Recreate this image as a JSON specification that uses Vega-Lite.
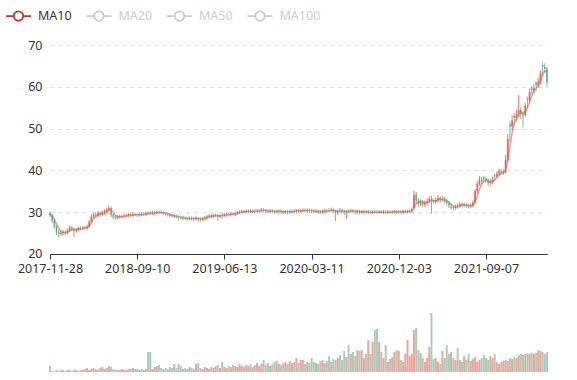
{
"$schema": "https://vega.github.io/schema/vega-lite/v6.json",
"width": 497, "height": 327,
"autosize": {"type": "none"},
"padding": {"left": 50, "top": 45, "right": 30, "bottom": 8},
"config": {"font": "Noto Sans", "view": {"stroke": null}},
"data": {"values": [
{"d":"2017-11-28","o":29.8,"c":29.2,"h":30.2,"l":28.7,"v":6,"m":29.6},
{"d":"2017-12-05","o":29.2,"c":28.0,"h":29.6,"l":27.4,"v":1,"m":29.2},
{"d":"2017-12-12","o":28.0,"c":26.5,"h":28.4,"l":26.0,"v":1,"m":28.3},
{"d":"2017-12-19","o":26.5,"c":25.2,"h":26.9,"l":24.6,"v":2,"m":27.2},
{"d":"2017-12-26","o":25.2,"c":24.8,"h":25.7,"l":23.9,"v":1,"m":26.2},
{"d":"2018-01-02","o":24.8,"c":25.0,"h":25.6,"l":24.3,"v":2,"m":25.4},
{"d":"2018-01-09","o":25.0,"c":25.3,"h":25.8,"l":24.5,"v":2,"m":25.1},
{"d":"2018-01-16","o":25.3,"c":25.1,"h":25.7,"l":24.4,"v":1,"m":25.1},
{"d":"2018-01-23","o":25.1,"c":25.6,"h":26.1,"l":24.7,"v":2,"m":25.2},
{"d":"2018-01-30","o":25.6,"c":26.3,"h":26.8,"l":25.2,"v":2,"m":25.5},
{"d":"2018-02-06","o":26.3,"c":26.0,"h":26.7,"l":25.5,"v":1,"m":25.9},
{"d":"2018-02-13","o":26.0,"c":25.6,"h":26.4,"l":24.0,"v":2,"m":25.9},
{"d":"2018-02-20","o":25.6,"c":25.8,"h":26.2,"l":25.1,"v":2,"m":25.8},
{"d":"2018-02-27","o":25.8,"c":26.2,"h":26.6,"l":25.4,"v":1,"m":25.9},
{"d":"2018-03-06","o":26.2,"c":26.1,"h":26.6,"l":25.6,"v":2,"m":26.0},
{"d":"2018-03-13","o":26.1,"c":26.3,"h":26.7,"l":25.7,"v":2,"m":26.1},
{"d":"2018-03-20","o":26.3,"c":26.2,"h":26.7,"l":25.8,"v":3,"m":26.2},
{"d":"2018-03-27","o":26.2,"c":26.6,"h":27.0,"l":25.8,"v":4,"m":26.3},
{"d":"2018-04-03","o":26.6,"c":27.8,"h":28.2,"l":26.3,"v":2,"m":26.7},
{"d":"2018-04-10","o":27.8,"c":29.0,"h":29.5,"l":27.4,"v":3,"m":27.5},
{"d":"2018-04-17","o":29.0,"c":29.4,"h":29.9,"l":28.5,"v":4,"m":28.4},
{"d":"2018-04-24","o":29.4,"c":29.2,"h":30.0,"l":28.6,"v":3,"m":29.0},
{"d":"2018-05-01","o":29.2,"c":29.8,"h":30.3,"l":28.8,"v":2,"m":29.3},
{"d":"2018-05-08","o":29.8,"c":29.5,"h":30.2,"l":28.8,"v":4,"m":29.5},
{"d":"2018-05-15","o":29.5,"c":29.9,"h":30.4,"l":29.1,"v":5,"m":29.6},
{"d":"2018-05-22","o":29.9,"c":30.2,"h":30.7,"l":29.4,"v":3,"m":29.8},
{"d":"2018-05-29","o":30.2,"c":30.6,"h":31.1,"l":29.8,"v":4,"m":30.1},
{"d":"2018-06-05","o":30.6,"c":31.0,"h":31.6,"l":30.1,"v":6,"m":30.5},
{"d":"2018-06-12","o":31.0,"c":29.4,"h":31.4,"l":28.8,"v":5,"m":30.5},
{"d":"2018-06-19","o":29.4,"c":28.9,"h":29.8,"l":28.3,"v":3,"m":30.0},
{"d":"2018-06-26","o":28.9,"c":28.7,"h":29.3,"l":28.2,"v":2,"m":29.3},
{"d":"2018-07-03","o":28.7,"c":28.9,"h":29.3,"l":28.3,"v":2,"m":29.0},
{"d":"2018-07-10","o":28.9,"c":29.0,"h":29.4,"l":28.4,"v":2,"m":28.9},
{"d":"2018-07-17","o":29.0,"c":29.1,"h":29.5,"l":28.6,"v":3,"m":28.9},
{"d":"2018-07-24","o":29.1,"c":29.2,"h":29.6,"l":28.7,"v":2,"m":29.0},
{"d":"2018-07-31","o":29.2,"c":29.3,"h":29.7,"l":28.8,"v":2,"m":29.1},
{"d":"2018-08-07","o":29.3,"c":29.4,"h":29.8,"l":28.9,"v":3,"m":29.2},
{"d":"2018-08-14","o":29.4,"c":29.3,"h":29.8,"l":28.8,"v":3,"m":29.3},
{"d":"2018-08-21","o":29.3,"c":29.5,"h":29.9,"l":28.9,"v":4,"m":29.3},
{"d":"2018-08-28","o":29.5,"c":29.4,"h":29.9,"l":29.0,"v":3,"m":29.4},
{"d":"2018-09-10","o":29.4,"c":29.3,"h":29.8,"l":28.8,"v":3,"m":29.4},
{"d":"2018-09-17","o":29.3,"c":29.5,"h":29.9,"l":28.9,"v":2,"m":29.4},
{"d":"2018-09-24","o":29.5,"c":29.6,"h":30.0,"l":29.1,"v":3,"m":29.4},
{"d":"2018-10-01","o":29.6,"c":29.5,"h":30.0,"l":29.1,"v":2,"m":29.5},
{"d":"2018-10-08","o":29.5,"c":29.7,"h":30.1,"l":29.1,"v":3,"m":29.6},
{"d":"2018-10-15","o":29.8,"c":29.7,"h":30.2,"l":29.3,"v":20,"m":29.7},
{"d":"2018-10-22","o":29.8,"c":29.7,"h":30.2,"l":29.3,"v":20,"m":29.7},
{"d":"2018-10-29","o":29.7,"c":29.9,"h":30.3,"l":29.3,"v":3,"m":29.8},
{"d":"2018-11-05","o":29.8,"c":29.9,"h":30.3,"l":29.4,"v":5,"m":29.8},
{"d":"2018-11-12","o":29.9,"c":30.0,"h":30.4,"l":29.5,"v":6,"m":29.9},
{"d":"2018-11-19","o":30.1,"c":30.0,"h":30.4,"l":29.6,"v":7,"m":29.9},
{"d":"2018-11-26","o":30.0,"c":29.9,"h":30.4,"l":29.5,"v":4,"m":29.9},
{"d":"2018-12-03","o":29.9,"c":29.7,"h":30.2,"l":29.3,"v":3,"m":29.9},
{"d":"2018-12-10","o":29.7,"c":29.6,"h":30.1,"l":29.2,"v":4,"m":29.8},
{"d":"2018-12-17","o":29.6,"c":29.4,"h":29.9,"l":29.0,"v":3,"m":29.6},
{"d":"2018-12-24","o":29.4,"c":29.2,"h":29.8,"l":28.8,"v":5,"m":29.5},
{"d":"2018-12-31","o":29.2,"c":29.1,"h":29.6,"l":28.7,"v":4,"m":29.3},
{"d":"2019-01-07","o":29.0,"c":29.1,"h":29.5,"l":28.6,"v":8,"m":29.2},
{"d":"2019-01-14","o":29.0,"c":28.9,"h":29.4,"l":28.5,"v":4,"m":29.0},
{"d":"2019-01-21","o":28.9,"c":28.8,"h":29.3,"l":28.0,"v":8,"m":28.9},
{"d":"2019-01-28","o":28.8,"c":28.7,"h":29.2,"l":28.2,"v":6,"m":28.8},
{"d":"2019-02-04","o":28.5,"c":28.6,"h":29.1,"l":28.1,"v":3,"m":28.7},
{"d":"2019-02-11","o":28.6,"c":28.5,"h":29.0,"l":28.1,"v":4,"m":28.6},
{"d":"2019-02-18","o":28.4,"c":28.5,"h":28.9,"l":28.0,"v":3,"m":28.5},
{"d":"2019-02-25","o":28.5,"c":28.6,"h":29.0,"l":28.1,"v":5,"m":28.5},
{"d":"2019-03-04","o":28.6,"c":28.5,"h":29.0,"l":28.0,"v":4,"m":28.5},
{"d":"2019-03-11","o":28.5,"c":28.4,"h":28.9,"l":27.9,"v":3,"m":28.5},
{"d":"2019-03-18","o":28.4,"c":28.6,"h":29.0,"l":28.0,"v":8,"m":28.5},
{"d":"2019-03-25","o":28.6,"c":28.4,"h":28.9,"l":27.7,"v":9,"m":28.5},
{"d":"2019-04-01","o":28.4,"c":28.3,"h":28.8,"l":27.8,"v":4,"m":28.4},
{"d":"2019-04-08","o":28.3,"c":28.4,"h":28.8,"l":27.9,"v":3,"m":28.4},
{"d":"2019-04-15","o":28.4,"c":28.7,"h":29.1,"l":28.0,"v":5,"m":28.5},
{"d":"2019-04-22","o":28.7,"c":29.0,"h":29.4,"l":28.3,"v":4,"m":28.7},
{"d":"2019-04-29","o":29.0,"c":29.2,"h":29.6,"l":28.6,"v":3,"m":28.9},
{"d":"2019-05-06","o":29.2,"c":29.0,"h":29.6,"l":28.5,"v":5,"m":29.0},
{"d":"2019-05-13","o":29.0,"c":29.2,"h":29.6,"l":28.6,"v":4,"m":29.1},
{"d":"2019-05-20","o":29.2,"c":29.3,"h":29.7,"l":28.8,"v":6,"m":29.2},
{"d":"2019-05-27","o":29.3,"c":29.0,"h":29.6,"l":27.9,"v":7,"m":29.1},
{"d":"2019-06-03","o":29.0,"c":29.2,"h":29.6,"l":28.6,"v":4,"m":29.1},
{"d":"2019-06-10","o":29.4,"c":29.3,"h":29.8,"l":28.4,"v":10,"m":29.2},
{"d":"2019-06-13","o":29.3,"c":29.4,"h":29.8,"l":28.9,"v":5,"m":29.3},
{"d":"2019-06-20","o":29.4,"c":29.5,"h":29.9,"l":29.0,"v":4,"m":29.4},
{"d":"2019-06-27","o":29.5,"c":29.4,"h":29.9,"l":29.0,"v":6,"m":29.4},
{"d":"2019-07-04","o":29.4,"c":29.6,"h":30.0,"l":29.0,"v":5,"m":29.5},
{"d":"2019-07-11","o":29.6,"c":29.5,"h":30.0,"l":29.1,"v":7,"m":29.5},
{"d":"2019-07-18","o":29.5,"c":29.7,"h":30.1,"l":29.1,"v":6,"m":29.6},
{"d":"2019-07-25","o":29.7,"c":29.9,"h":30.3,"l":29.3,"v":5,"m":29.7},
{"d":"2019-08-01","o":29.9,"c":30.1,"h":30.5,"l":29.5,"v":8,"m":29.9},
{"d":"2019-08-08","o":30.1,"c":30.2,"h":30.6,"l":29.7,"v":6,"m":30.0},
{"d":"2019-08-15","o":30.2,"c":30.1,"h":30.6,"l":29.7,"v":5,"m":30.1},
{"d":"2019-08-22","o":30.1,"c":30.2,"h":30.6,"l":29.7,"v":7,"m":30.2},
{"d":"2019-08-29","o":30.2,"c":30.3,"h":30.7,"l":29.8,"v":6,"m":30.2},
{"d":"2019-09-05","o":30.3,"c":30.2,"h":30.7,"l":29.8,"v":8,"m":30.2},
{"d":"2019-09-12","o":30.2,"c":30.3,"h":30.7,"l":29.8,"v":5,"m":30.2},
{"d":"2019-09-19","o":30.3,"c":30.2,"h":30.7,"l":29.7,"v":7,"m":30.2},
{"d":"2019-09-26","o":30.2,"c":30.3,"h":30.7,"l":29.8,"v":9,"m":30.3},
{"d":"2019-10-03","o":30.3,"c":30.4,"h":30.8,"l":29.9,"v":6,"m":30.3},
{"d":"2019-10-10","o":30.4,"c":30.5,"h":31.0,"l":30.0,"v":8,"m":30.4},
{"d":"2019-10-17","o":30.5,"c":30.4,"h":30.9,"l":29.9,"v":12,"m":30.4},
{"d":"2019-10-24","o":30.4,"c":30.3,"h":30.8,"l":29.8,"v":7,"m":30.4},
{"d":"2019-10-31","o":30.3,"c":30.2,"h":30.7,"l":29.7,"v":9,"m":30.3},
{"d":"2019-11-07","o":30.2,"c":30.3,"h":30.7,"l":29.8,"v":6,"m":30.3},
{"d":"2019-11-14","o":30.3,"c":30.2,"h":30.7,"l":29.7,"v":8,"m":30.3},
{"d":"2019-11-21","o":30.2,"c":30.1,"h":30.6,"l":29.6,"v":10,"m":30.2},
{"d":"2019-11-28","o":30.1,"c":30.2,"h":30.6,"l":29.7,"v":11,"m":30.2},
{"d":"2019-12-05","o":30.2,"c":30.3,"h":30.7,"l":29.8,"v":8,"m":30.2},
{"d":"2019-12-12","o":30.3,"c":30.1,"h":30.7,"l":29.6,"v":7,"m":30.2},
{"d":"2019-12-19","o":30.1,"c":30.0,"h":30.5,"l":29.5,"v":9,"m":30.1},
{"d":"2019-12-26","o":30.0,"c":30.1,"h":30.5,"l":29.6,"v":10,"m":30.1},
{"d":"2020-01-02","o":30.1,"c":30.0,"h":30.5,"l":29.5,"v":8,"m":30.1},
{"d":"2020-01-09","o":30.0,"c":30.2,"h":30.6,"l":29.6,"v":11,"m":30.1},
{"d":"2020-01-16","o":30.2,"c":30.3,"h":30.7,"l":29.8,"v":9,"m":30.1},
{"d":"2020-01-23","o":30.3,"c":30.2,"h":30.7,"l":29.7,"v":10,"m":30.2},
{"d":"2020-01-30","o":30.2,"c":30.4,"h":30.8,"l":29.7,"v":14,"m":30.3},
{"d":"2020-02-06","o":30.4,"c":30.3,"h":30.8,"l":29.8,"v":9,"m":30.3},
{"d":"2020-02-13","o":30.3,"c":30.4,"h":30.8,"l":29.9,"v":12,"m":30.3},
{"d":"2020-02-20","o":30.4,"c":30.5,"h":30.9,"l":30.0,"v":12,"m":30.4},
{"d":"2020-02-27","o":30.5,"c":30.4,"h":30.9,"l":29.9,"v":8,"m":30.4},
{"d":"2020-03-05","o":30.4,"c":30.5,"h":30.9,"l":30.0,"v":10,"m":30.4},
{"d":"2020-03-09","o":30.5,"c":30.4,"h":30.9,"l":29.9,"v":9,"m":30.4},
{"d":"2020-03-11","o":30.4,"c":30.3,"h":30.8,"l":29.8,"v":14,"m":30.4},
{"d":"2020-03-18","o":30.3,"c":30.2,"h":30.7,"l":29.7,"v":10,"m":30.3},
{"d":"2020-03-25","o":30.2,"c":30.3,"h":30.7,"l":29.8,"v":9,"m":30.3},
{"d":"2020-04-01","o":30.3,"c":30.1,"h":30.7,"l":29.6,"v":8,"m":30.2},
{"d":"2020-04-08","o":30.1,"c":30.0,"h":30.5,"l":29.5,"v":11,"m":30.2},
{"d":"2020-04-15","o":30.0,"c":30.2,"h":30.6,"l":29.6,"v":12,"m":30.1},
{"d":"2020-04-22","o":30.2,"c":30.4,"h":30.8,"l":29.8,"v":9,"m":30.2},
{"d":"2020-04-29","o":30.4,"c":30.3,"h":30.8,"l":29.8,"v":11,"m":30.2},
{"d":"2020-05-06","o":30.5,"c":30.4,"h":31.0,"l":29.9,"v":16,"m":30.3},
{"d":"2020-05-13","o":30.4,"c":30.6,"h":31.1,"l":30.1,"v":10,"m":30.4},
{"d":"2020-05-20","o":30.6,"c":30.3,"h":31.0,"l":29.8,"v":13,"m":30.4},
{"d":"2020-05-27","o":30.3,"c":30.0,"h":30.7,"l":27.9,"v":12,"m":30.3},
{"d":"2020-06-03","o":30.0,"c":30.2,"h":30.6,"l":29.4,"v":14,"m":30.2},
{"d":"2020-06-10","o":30.6,"c":30.5,"h":31.0,"l":29.7,"v":17,"m":30.3},
{"d":"2020-06-17","o":30.5,"c":30.3,"h":30.9,"l":29.8,"v":12,"m":30.3},
{"d":"2020-06-24","o":30.3,"c":29.9,"h":30.6,"l":29.3,"v":21,"m":30.2},
{"d":"2020-07-01","o":29.9,"c":30.1,"h":30.5,"l":28.4,"v":15,"m":30.1},
{"d":"2020-07-08","o":30.4,"c":30.3,"h":30.7,"l":29.7,"v":27,"m":30.2},
{"d":"2020-07-15","o":30.3,"c":30.4,"h":30.8,"l":29.9,"v":18,"m":30.2},
{"d":"2020-07-22","o":30.4,"c":30.2,"h":30.8,"l":29.7,"v":20,"m":30.3},
{"d":"2020-07-29","o":30.2,"c":30.1,"h":30.6,"l":29.6,"v":16,"m":30.2},
{"d":"2020-08-05","o":30.0,"c":30.2,"h":30.6,"l":29.6,"v":22,"m":30.2},
{"d":"2020-08-12","o":30.2,"c":30.0,"h":30.6,"l":29.5,"v":21,"m":30.2},
{"d":"2020-08-19","o":29.9,"c":30.1,"h":30.5,"l":29.6,"v":22,"m":30.1},
{"d":"2020-08-26","o":30.1,"c":30.2,"h":30.6,"l":29.7,"v":14,"m":30.1},
{"d":"2020-09-02","o":30.2,"c":30.1,"h":30.6,"l":29.6,"v":18,"m":30.1},
{"d":"2020-09-09","o":29.9,"c":30.0,"h":30.5,"l":29.5,"v":32,"m":30.1},
{"d":"2020-09-16","o":30.0,"c":29.9,"h":30.4,"l":29.5,"v":18,"m":30.0},
{"d":"2020-09-23","o":29.9,"c":30.0,"h":30.4,"l":29.5,"v":30,"m":30.0},
{"d":"2020-09-30","o":30.2,"c":30.1,"h":30.5,"l":29.6,"v":42,"m":30.0},
{"d":"2020-10-07","o":30.1,"c":30.0,"h":30.5,"l":29.6,"v":43,"m":30.0},
{"d":"2020-10-14","o":30.0,"c":30.1,"h":30.5,"l":29.6,"v":30,"m":30.0},
{"d":"2020-10-21","o":30.1,"c":30.0,"h":30.4,"l":29.6,"v":20,"m":30.0},
{"d":"2020-10-28","o":30.0,"c":30.1,"h":30.5,"l":29.6,"v":14,"m":30.0},
{"d":"2020-11-04","o":30.1,"c":30.0,"h":30.5,"l":29.6,"v":27,"m":30.0},
{"d":"2020-11-11","o":30.0,"c":30.1,"h":30.5,"l":29.6,"v":10,"m":30.0},
{"d":"2020-11-18","o":30.1,"c":30.0,"h":30.4,"l":29.6,"v":13,"m":30.0},
{"d":"2020-11-23","o":30.0,"c":30.1,"h":30.5,"l":29.6,"v":15,"m":30.0},
{"d":"2020-11-27","o":30.1,"c":30.2,"h":30.6,"l":29.7,"v":20,"m":30.1},
{"d":"2020-12-01","o":30.2,"c":30.0,"h":30.6,"l":29.6,"v":22,"m":30.1},
{"d":"2020-12-03","o":30.0,"c":30.1,"h":30.5,"l":29.6,"v":21,"m":30.1},
{"d":"2020-12-10","o":30.1,"c":30.0,"h":30.5,"l":29.6,"v":12,"m":30.1},
{"d":"2020-12-17","o":30.0,"c":30.2,"h":30.6,"l":29.6,"v":10,"m":30.1},
{"d":"2020-12-24","o":30.0,"c":30.1,"h":30.6,"l":29.7,"v":18,"m":30.1},
{"d":"2020-12-31","o":30.1,"c":30.2,"h":30.6,"l":29.7,"v":32,"m":30.1},
{"d":"2021-01-07","o":30.2,"c":30.3,"h":30.7,"l":29.8,"v":16,"m":30.2},
{"d":"2021-01-14","o":30.3,"c":30.6,"h":31.2,"l":29.9,"v":18,"m":30.3},
{"d":"2021-01-21","o":31.0,"c":34.2,"h":35.2,"l":30.6,"v":42,"m":31.2},
{"d":"2021-01-28","o":34.2,"c":32.8,"h":34.8,"l":32.1,"v":44,"m":32.0},
{"d":"2021-02-04","o":32.8,"c":32.0,"h":33.4,"l":31.3,"v":22,"m":32.4},
{"d":"2021-02-11","o":32.0,"c":32.4,"h":33.1,"l":31.4,"v":19,"m":32.6},
{"d":"2021-02-18","o":32.4,"c":31.8,"h":32.9,"l":31.1,"v":14,"m":32.5},
{"d":"2021-02-25","o":31.8,"c":32.2,"h":32.8,"l":31.2,"v":10,"m":32.3},
{"d":"2021-03-04","o":32.2,"c":32.6,"h":33.2,"l":31.7,"v":14,"m":32.3},
{"d":"2021-03-11","o":32.6,"c":33.2,"h":33.8,"l":32.1,"v":25,"m":32.5},
{"d":"2021-03-18","o":33.2,"c":32.8,"h":33.9,"l":29.6,"v":59,"m":32.7},
{"d":"2021-03-25","o":32.8,"c":32.5,"h":33.3,"l":31.9,"v":13,"m":32.7},
{"d":"2021-04-01","o":32.5,"c":32.9,"h":33.5,"l":32.0,"v":14,"m":32.7},
{"d":"2021-04-08","o":32.9,"c":33.4,"h":34.1,"l":32.4,"v":10,"m":32.9},
{"d":"2021-04-15","o":33.4,"c":33.0,"h":33.9,"l":32.4,"v":8,"m":33.0},
{"d":"2021-04-22","o":33.0,"c":33.2,"h":33.8,"l":32.5,"v":21,"m":33.1},
{"d":"2021-04-29","o":33.2,"c":32.7,"h":33.7,"l":32.1,"v":14,"m":33.0},
{"d":"2021-05-06","o":32.7,"c":32.2,"h":33.2,"l":31.6,"v":27,"m":32.8},
{"d":"2021-05-13","o":32.2,"c":31.6,"h":32.7,"l":31.0,"v":18,"m":32.4},
{"d":"2021-05-20","o":31.0,"c":31.2,"h":32.1,"l":30.6,"v":20,"m":31.9},
{"d":"2021-05-27","o":31.2,"c":31.0,"h":31.6,"l":30.4,"v":14,"m":31.5},
{"d":"2021-06-03","o":31.0,"c":31.3,"h":31.8,"l":30.6,"v":12,"m":31.3},
{"d":"2021-06-10","o":31.8,"c":31.6,"h":32.1,"l":30.8,"v":24,"m":31.3},
{"d":"2021-06-17","o":31.6,"c":31.9,"h":32.4,"l":31.1,"v":12,"m":31.5},
{"d":"2021-06-24","o":31.9,"c":31.7,"h":32.3,"l":31.1,"v":10,"m":31.7},
{"d":"2021-07-01","o":31.7,"c":31.8,"h":32.3,"l":31.2,"v":16,"m":31.7},
{"d":"2021-07-08","o":31.8,"c":31.5,"h":32.2,"l":31.0,"v":12,"m":31.7},
{"d":"2021-07-15","o":31.5,"c":31.4,"h":32.0,"l":30.9,"v":18,"m":31.6},
{"d":"2021-07-22","o":31.4,"c":31.6,"h":32.1,"l":30.9,"v":11,"m":31.5},
{"d":"2021-07-29","o":31.6,"c":32.3,"h":32.8,"l":31.2,"v":13,"m":31.7},
{"d":"2021-08-05","o":32.3,"c":35.0,"h":35.6,"l":31.9,"v":15,"m":32.5},
{"d":"2021-08-12","o":35.0,"c":36.8,"h":37.4,"l":34.4,"v":10,"m":33.8},
{"d":"2021-08-19","o":36.8,"c":37.8,"h":38.6,"l":36.3,"v":12,"m":35.5},
{"d":"2021-08-26","o":37.8,"c":37.5,"h":38.4,"l":36.6,"v":14,"m":36.8},
{"d":"2021-09-02","o":38.3,"c":38.0,"h":38.7,"l":36.9,"v":17,"m":37.4},
{"d":"2021-09-07","o":38.0,"c":37.6,"h":38.5,"l":37.0,"v":14,"m":37.7},
{"d":"2021-09-14","o":37.6,"c":37.0,"h":38.1,"l":36.3,"v":12,"m":37.5},
{"d":"2021-09-21","o":37.0,"c":37.3,"h":38.0,"l":36.5,"v":16,"m":37.3},
{"d":"2021-09-28","o":37.3,"c":37.9,"h":38.5,"l":36.8,"v":14,"m":37.4},
{"d":"2021-10-05","o":38.8,"c":38.6,"h":39.2,"l":37.4,"v":18,"m":37.8},
{"d":"2021-10-12","o":38.6,"c":39.2,"h":39.8,"l":38.1,"v":10,"m":38.3},
{"d":"2021-10-19","o":39.2,"c":39.8,"h":40.4,"l":38.7,"v":8,"m":38.9},
{"d":"2021-10-26","o":39.8,"c":39.5,"h":40.3,"l":38.9,"v":10,"m":39.3},
{"d":"2021-11-02","o":39.5,"c":39.6,"h":40.2,"l":38.9,"v":11,"m":39.5},
{"d":"2021-11-09","o":39.6,"c":42.5,"h":43.7,"l":39.2,"v":12,"m":40.2},
{"d":"2021-11-16","o":42.5,"c":47.5,"h":48.7,"l":42.0,"v":11,"m":42.4},
{"d":"2021-11-23","o":51.0,"c":50.5,"h":51.7,"l":46.8,"v":14,"m":45.8},
{"d":"2021-11-30","o":50.5,"c":52.0,"h":53.2,"l":49.6,"v":13,"m":49.0},
{"d":"2021-12-07","o":53.0,"c":52.6,"h":53.7,"l":51.0,"v":15,"m":51.2},
{"d":"2021-12-14","o":52.6,"c":53.4,"h":54.4,"l":51.8,"v":14,"m":52.4},
{"d":"2021-12-21","o":53.4,"c":54.5,"h":58.0,"l":52.8,"v":17,"m":53.2},
{"d":"2021-12-28","o":54.5,"c":53.5,"h":55.2,"l":52.3,"v":18,"m":53.7},
{"d":"2022-01-04","o":53.5,"c":53.2,"h":54.2,"l":50.3,"v":17,"m":53.7},
{"d":"2022-01-11","o":53.2,"c":55.5,"h":56.2,"l":52.8,"v":18,"m":54.0},
{"d":"2022-01-18","o":57.0,"c":56.8,"h":57.7,"l":54.8,"v":19,"m":55.0},
{"d":"2022-01-25","o":56.8,"c":58.8,"h":59.6,"l":56.2,"v":18,"m":56.3},
{"d":"2022-02-01","o":59.6,"c":59.2,"h":60.2,"l":58.1,"v":19,"m":57.8},
{"d":"2022-02-08","o":59.2,"c":59.6,"h":60.6,"l":58.5,"v":18,"m":58.9},
{"d":"2022-02-15","o":60.8,"c":60.4,"h":61.4,"l":59.0,"v":19,"m":59.6},
{"d":"2022-02-22","o":60.4,"c":61.2,"h":62.2,"l":59.8,"v":22,"m":60.4},
{"d":"2022-03-01","o":61.2,"c":63.2,"h":64.0,"l":60.6,"v":21,"m":61.5},
{"d":"2022-03-08","o":65.2,"c":64.8,"h":65.8,"l":62.6,"v":20,"m":62.8},
{"d":"2022-03-15","o":64.8,"c":64.3,"h":65.6,"l":63.3,"v":18,"m":63.8},
{"d":"2022-03-22","o":64.3,"c":61.0,"h":64.8,"l":60.0,"v":20,"m":63.5}
]},
"encoding": {
  "x": {"field": "d", "type": "ordinal", "scale": {"type": "point", "padding": 0},
    "axis": {"values": ["2017-11-28","2018-09-10","2019-06-13","2020-03-11","2020-12-03","2021-09-07"],
      "offset": -118, "labelAngle": 0, "title": null, "grid": false,
      "domainColor": "#333", "tickColor": "#333", "labelColor": "#333",
      "labelFont": "Noto Sans", "labelFontSize": 12.5, "tickSize": 5, "labelPadding": 3,
      "labelFlush": false, "labelOverlap": false}}
},
"layer": [
  {
    "layer": [
      {"mark": {"type": "line", "strokeWidth": 1.6, "opacity": 0.45, "interpolate": "monotone"},
       "encoding": {
         "y": {"field": "m", "type": "quantitative",
           "scale": {"domain": [-8.23, 70], "nice": false, "zero": false},
           "axis": {"values": [20,30,40,50,60,70], "title": null, "domain": false, "ticks": false, "tickSize": 0,
             "labelPadding": 8, "grid": true, "gridDash": [4,4], "gridColor": "#e0e0e0",
             "labelColor": "#333", "labelFont": "Noto Sans", "labelFontSize": 12.5}},
         "color": {"datum": "MA10", "type": "nominal",
           "scale": {"domain": ["MA10","MA20","MA50","MA100"], "range": ["#c23531","#cccccc","#cccccc","#cccccc"]},
           "legend": {"orient": "none", "legendX": -45, "legendY": -42.5, "direction": "horizontal", "title": null,
             "symbolType": "M-1,0H-0.38M0.38,0H1M0.38,0A0.38,0.38,0,1,1,-0.38,0A0.38,0.38,0,1,1,0.38,0",
             "symbolSize": 625, "symbolStrokeWidth": 1.8, "symbolFillColor": "#ffffff", "symbolOpacity": 1,
             "labelFont": "Noto Sans", "labelFontSize": 12.5, "labelOffset": 6, "columnPadding": 10.5,
             "labelColor": {"expr": "datum.label === 'MA10' ? '#333333' : '#cccccc'"}}}
       }},
      {"mark": {"type": "rule", "strokeWidth": 1, "opacity": 0.8},
       "encoding": {
         "y": {"field": "l", "type": "quantitative"},
         "y2": {"field": "h"},
         "color": {"condition": {"test": "datum.c >= datum.o", "value": "#df5a48"}, "value": "#5ea583"}
       }},
      {"mark": {"type": "bar", "width": 1.8, "opacity": 0.8},
       "encoding": {
         "y": {"field": "o", "type": "quantitative"},
         "y2": {"field": "c"},
         "color": {"condition": {"test": "datum.c >= datum.o", "value": "#df5a48"}, "value": "#5ea583"}
       }}
    ]
  },
  {"mark": {"type": "bar", "width": 2, "opacity": 0.55},
   "encoding": {
     "y": {"field": "v", "type": "quantitative", "scale": {"domain": [0, 327], "nice": false}, "axis": null},
     "color": {"condition": {"test": "datum.c >= datum.o", "value": "#df5a48"}, "value": "#5ea583"}
   }}
],
"resolve": {"scale": {"y": "independent"}}
}
